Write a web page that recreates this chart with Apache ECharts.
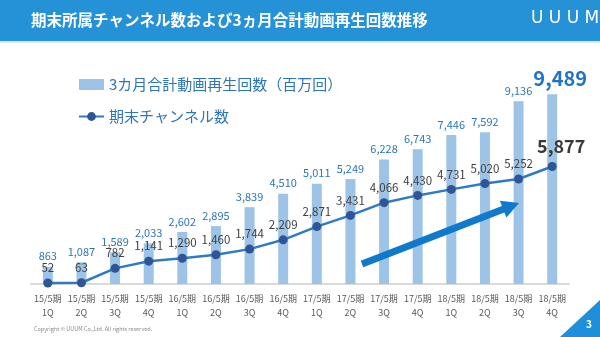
<!DOCTYPE html>
<html>
<head>
<meta charset="utf-8">
<script src="https://cdn.jsdelivr.net/npm/echarts@6/dist/echarts.min.js"></script>
<style>
  html, body { margin: 0; padding: 0; background: #ffffff; }
  #chart { width: 600px; height: 337px; }
</style>
</head>
<body>
<div id="chart"></div>
<script>
// Fiscal period labels (line 1) and quarter labels (line 2)
const periods = ['15/5期','15/5期','15/5期','15/5期','16/5期','16/5期','16/5期','16/5期',
                 '17/5期','17/5期','17/5期','17/5期','18/5期','18/5期','18/5期','18/5期'];
const quarters = ['1Q','2Q','3Q','4Q','1Q','2Q','3Q','4Q','1Q','2Q','3Q','4Q','1Q','2Q','3Q','4Q'];

// 3-month total video views (millions)
const views = [863, 1087, 1589, 2033, 2602, 2895, 3839, 4510, 5011, 5249, 6228, 6743, 7446, 7592, 9136, 9489];
// Channels at period end
const channels = [52, 63, 782, 1141, 1290, 1460, 1744, 2209, 2871, 3431, 4066, 4430, 4731, 5020, 5252, 5877];

const viewsName = '3カ月合計動画再生回数（百万回）';
const channelsName = '期末チャンネル数';

const FONT = '"Noto Sans CJK JP", "Noto Sans", sans-serif';
const categories = periods.map((p, i) => p + '\n' + quarters[i]);
const last = views.length - 1;

// Latest quarter gets emphasised labels
const viewsData = views.map((v, i) => i === last ? {
  value: v,
  label: { fontSize: 20, fontWeight: 'bold', color: '#1F73C6', distance: 6, offset: [8, 0] }
} : v);
const channelsData = channels.map((v, i) => i === last ? {
  value: v,
  label: { fontSize: 18, fontWeight: 'bold', color: '#3a3a3a', distance: 7, offset: [9, 0] }
} : v);

// Trend arrow (decorative annotation)
function arrowPoints(x0, y0, x1, y1, shaftHalf, headLen, headHalf) {
  const dx = x1 - x0, dy = y1 - y0;
  const len = Math.sqrt(dx * dx + dy * dy);
  const ux = dx / len, uy = dy / len;
  const nx = -uy, ny = ux;
  const bx = x1 - ux * headLen, by = y1 - uy * headLen;
  return [
    [x0 + nx * shaftHalf, y0 + ny * shaftHalf],
    [bx + nx * shaftHalf, by + ny * shaftHalf],
    [bx + nx * headHalf, by + ny * headHalf],
    [x1, y1],
    [bx - nx * headHalf, by - ny * headHalf],
    [bx - nx * shaftHalf, by - ny * shaftHalf],
    [x0 - nx * shaftHalf, y0 - ny * shaftHalf]
  ];
}

const chart = echarts.init(document.getElementById('chart'), null, { renderer: 'canvas' });
chart.setOption({
  backgroundColor: '#ffffff',
  animation: false,
  textStyle: { fontFamily: FONT },
  grid: { left: 31, right: 31, top: 84, bottom: 53 },
  legend: {
    orient: 'vertical',
    left: 78,
    top: 77,
    padding: 0,
    itemGap: 17,
    itemWidth: 25,
    itemHeight: 11,
    textStyle: { fontFamily: FONT, fontSize: 15, color: '#2E75B6' },
    data: [
      { name: viewsName, icon: 'rect' },
      { name: channelsName }
    ]
  },
  xAxis: {
    type: 'category',
    data: categories,
    axisLine: { lineStyle: { color: '#d9d9d9', width: 2 } },
    axisTick: { show: false },
    axisLabel: {
      interval: 0,
      margin: 8,
      fontSize: 9,
      lineHeight: 14,
      color: '#595959',
      fontFamily: FONT
    }
  },
  yAxis: {
    type: 'value',
    min: 0,
    max: 10000,
    show: false,
    splitLine: { show: false }
  },
  series: [
    {
      name: viewsName,
      type: 'bar',
      data: viewsData,
      barWidth: 10,
      itemStyle: { color: '#9DC3E6' },
      label: {
        show: true,
        position: 'top',
        distance: 5,
        fontSize: 11,
        color: '#2E75B6',
        fontFamily: FONT,
        formatter: p => p.value.toLocaleString('en-US')
      },
      z: 2
    },
    {
      name: channelsName,
      type: 'line',
      data: channelsData,
      symbol: 'circle',
      symbolSize: 9,
      lineStyle: { color: '#2E7BC4', width: 2.5 },
      itemStyle: { color: '#2F5597' },
      label: {
        show: true,
        position: 'top',
        distance: 5,
        fontSize: 11.5,
        color: '#404040',
        fontFamily: FONT,
        formatter: p => p.value.toLocaleString('en-US')
      },
      z: 3
    }
  ],
  graphic: [
    { type: 'rect', shape: { x: 0, y: 0, width: 600, height: 41 }, style: { fill: '#2591D6' }, z: 10 },
    { type: 'rect', shape: { x: 0, y: 41, width: 600, height: 2 }, style: { fill: '#d5e5f1' }, z: 10 },
    {
      type: 'text', left: 31, top: 12, z: 11,
      style: { text: '期末所属チャンネル数および3ヵ月合計動画再生回数推移', fill: '#ffffff',
               font: 'bold 15.5px ' + FONT }
    },
    {
      type: 'text', left: 531, top: 10, z: 11,
      style: { text: 'U U U M', fill: '#ffffff', font: '500 17px "DejaVu Sans", sans-serif' }
    },
    {
      type: 'polygon', z: 12,
      shape: { points: arrowPoints(362, 264, 519, 203, 3.5, 17, 9) },
      style: { fill: '#0F79CC' }
    },
    {
      type: 'text', left: 34, top: 326, z: 11,
      style: { text: 'Copyright © UUUM Co.,Ltd. All rights reserved.', fill: '#8a8a8a',
               font: '5.5px ' + FONT }
    },
    {
      type: 'polygon', z: 11,
      shape: { points: [[600, 300], [600, 337], [560, 337]] },
      style: { fill: '#1E8FD8' }
    },
    {
      type: 'text', left: 586, top: 319, z: 12,
      style: { text: '3', fill: '#ffffff', font: 'bold 10px ' + FONT }
    }
  ]
});
</script>
</body>
</html>
